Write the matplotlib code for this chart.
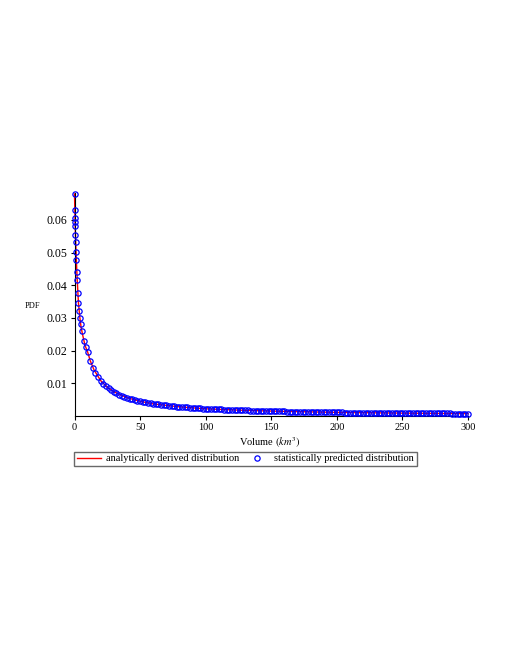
import matplotlib
matplotlib.use("Agg")
import matplotlib.pyplot as plt

plt.rcParams['font.family'] = ['Liberation Serif', 'DejaVu Serif']
plt.rcParams['mathtext.fontset'] = 'stix'

# statistically predicted distribution (blue circles)
stat_x = [0.0, 0.2, 0.35, 0.45, 0.55, 0.75, 0.9, 1.15, 1.4, 1.8, 2.1, 2.6, 3.0, 3.6,
          4.1, 4.6, 5.6, 7.2, 8.4] + list(range(10, 301, 2))
stat_y = [0.0679, 0.0630, 0.0605, 0.0592, 0.0580, 0.0553, 0.0533, 0.0503, 0.0478, 0.0440,
          0.0415, 0.0377, 0.0346, 0.0320, 0.0300, 0.0280, 0.0260, 0.0230, 0.0210,
          # 10 .. 100
          0.01962, 0.01689, 0.01481, 0.01317, 0.01186, 0.01078, 0.00988, 0.00911, 0.00845,
          0.00788, 0.00738, 0.00694, 0.00655, 0.00620, 0.00588, 0.00560, 0.00534, 0.00510,
          0.00488, 0.00468, 0.00450, 0.00433, 0.00417, 0.00402, 0.00388, 0.00375, 0.00363,
          0.00352, 0.00341, 0.00331, 0.00322, 0.00313, 0.00304, 0.00296, 0.00289, 0.00281,
          0.00274, 0.00268, 0.00261, 0.00255, 0.00250, 0.00244, 0.00239, 0.00234, 0.00229,
          0.00224,
          # 102 .. 200
          0.00220, 0.00216, 0.00212, 0.00208, 0.00204, 0.00200, 0.00196, 0.00193, 0.00190,
          0.00186, 0.00183, 0.00180, 0.00177, 0.00175, 0.00172, 0.00169, 0.00167, 0.00164,
          0.00162, 0.00159, 0.00157, 0.00155, 0.00153, 0.00150, 0.00148, 0.00146, 0.00144,
          0.00143, 0.00141, 0.00139, 0.00137, 0.00135, 0.00134, 0.00132, 0.00131, 0.00129,
          0.00127, 0.00126, 0.00124, 0.00123, 0.00122, 0.00120, 0.00119, 0.00118, 0.00116,
          0.00115, 0.00114, 0.00113, 0.00112, 0.00110,
          # 202 .. 300
          0.00109, 0.00108, 0.00107, 0.00106, 0.00105, 0.00104, 0.00103, 0.00102, 0.00101,
          0.00100, 0.00099, 0.00098, 0.00098, 0.00097, 0.00096, 0.00095, 0.00094, 0.00093,
          0.00093, 0.00092, 0.00091, 0.00090, 0.00090, 0.00089, 0.00088, 0.00087, 0.00087,
          0.00086, 0.00085, 0.00085, 0.00084, 0.00083, 0.00083, 0.00082, 0.00081, 0.00081,
          0.00080, 0.00080, 0.00079, 0.00078, 0.00078, 0.00077, 0.00077, 0.00076, 0.00076,
          0.00075, 0.00075, 0.00074, 0.00074, 0.00072]

# analytically derived distribution (red line)
anal_x = [0, 0.5, 1, 1.5, 2, 3, 4, 5, 6, 8, 10, 12, 15, 20, 25, 30, 40, 50, 60, 80,
          100, 125, 150, 200, 250, 300]
anal_y = [0.0679, 0.0586, 0.0521, 0.0469, 0.0423, 0.0346, 0.0304, 0.0272, 0.0252, 0.0216,
          0.0196, 0.0169, 0.0140, 0.0108, 0.0088, 0.0074, 0.0056, 0.0045, 0.0037, 0.0028,
          0.0022, 0.0018, 0.0015, 0.0011, 0.00088, 0.00072]

x_ticks = [0, 50, 100, 150, 200, 250, 300]
y_ticks = [0.01, 0.02, 0.03, 0.04, 0.05, 0.06]

fig = plt.figure(figsize=(5.1, 6.6), dpi=100)
ax = fig.add_axes([74.5 / 510, 1 - 416 / 660, (468 - 74.5) / 510, (416 - 193) / 660])

line, = ax.plot(anal_x, anal_y, color='red', linewidth=1.0, clip_on=False, zorder=2)
pts, = ax.plot(stat_x, stat_y, linestyle='none', marker='o', markersize=3.8,
               markerfacecolor='none', markeredgecolor='blue', markeredgewidth=0.9,
               clip_on=False, zorder=3)

ax.set_xlim(0, 300)
ax.set_ylim(0, 0.0682)
ax.set_xticks(x_ticks)
ax.set_xticklabels([str(v) for v in x_ticks])
ax.set_yticks(y_ticks)
ax.set_yticklabels(['0.01', '0.02', '0.03', '0.04', '0.05', '0.06'])
ax.tick_params(axis='both', direction='out', length=3, width=0.8, pad=2)
ax.tick_params(axis='x', labelsize=7.5)
ax.tick_params(axis='y', labelsize=8.5)

for side in ['top', 'right']:
    ax.spines[side].set_visible(False)
for side in ['left', 'bottom']:
    ax.spines[side].set_linewidth(0.8)

fig.text(32.5 / 510, 1 - 306 / 660, 'PDF', fontsize=6, ha='center', va='center')
fig.text(270 / 510, 1 - 443 / 660, r'Volume $\left(km^{3}\right)$', fontsize=7.5,
         ha='center', va='center')

leg = fig.legend([line, pts], ['analytically derived distribution',
                               'statistically predicted distribution'],
                 ncol=2, loc='upper left', bbox_to_anchor=(74 / 510, 1 - 451.5 / 660),
                 fontsize=7.5, frameon=True, fancybox=False, borderpad=0.25,
                 handlelength=2.3, handletextpad=0.5, columnspacing=0.6,
                 borderaxespad=0)
leg.get_frame().set_edgecolor('#444444')
leg.get_frame().set_linewidth(1.0)

fig.savefig('out.png', dpi=100)
